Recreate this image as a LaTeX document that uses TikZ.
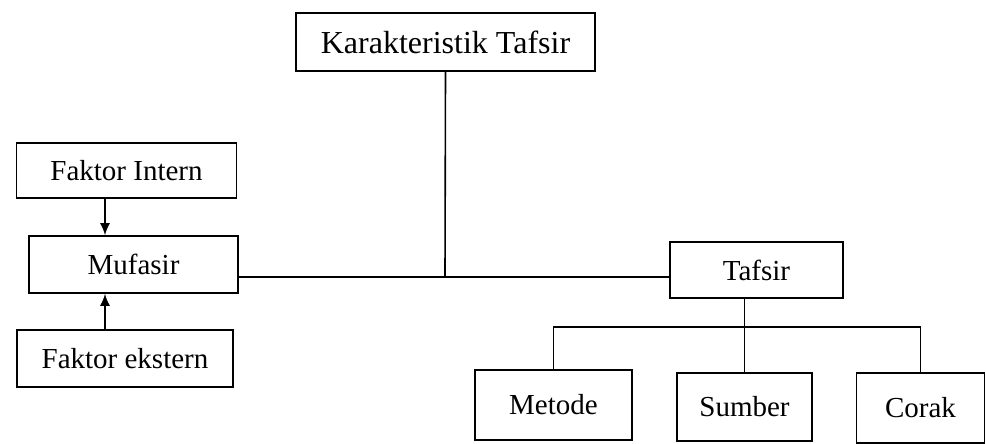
\documentclass[tikz,border=0pt]{standalone}
\usepackage{fontspec}
\setmainfont{Liberation Serif}
\usetikzlibrary{arrows.meta,positioning,calc}

\begin{document}
\begin{tikzpicture}[x=1pt, y=-1pt, >={Latex[length=12pt,width=10pt]}, line width=1.6pt,
    box/.style={draw, rectangle, inner sep=0pt, font=\fontsize{29}{34}\selectfont}]
  \useasboundingbox (0,0) rectangle (986,444);
  \node[box, minimum width=299pt, minimum height=58pt, font=\fontsize{32}{38}\selectfont] (kt) at (445.5,42) {Karakteristik Tafsir};
  \node[box, minimum width=220pt, minimum height=55pt] (intern) at (126.5,170.5) {Faktor Intern};
  \node[box, minimum width=209pt, minimum height=57pt] (mufasir) at (133.5,264.5) {Mufasir};
  \node[box, minimum width=216pt, minimum height=57pt] (ekstern) at (125,358.5) {Faktor ekstern};
  \node[box, minimum width=173pt, minimum height=56pt] (tafsir) at (756.5,270) {Tafsir};
  \node[box, minimum width=157pt, minimum height=70pt] (metode) at (553.5,405) {Metode};
  \node[box, minimum width=135pt, minimum height=68pt] (sumber) at (744.5,407) {Sumber};
  \node[box, minimum width=128pt, minimum height=70pt] (corak) at (920.5,408) {Corak};

  \coordinate (join) at (445,277);
  \coordinate (bus) at (744.5,327);
  \coordinate (ax) at (105,0);

  \draw (kt.south) -- (join);
  \draw (mufasir.east |- join) -- (tafsir.west |- join);
  \draw[->] (intern.south -| ax) -- (mufasir.north -| ax);
  \draw[->] (ekstern.north -| ax) -- (mufasir.south -| ax);
  \draw (tafsir.south -| sumber.north) -- (sumber.north);
  \draw (metode.north) |- (bus) -| (corak.north);
\end{tikzpicture}
\end{document}
